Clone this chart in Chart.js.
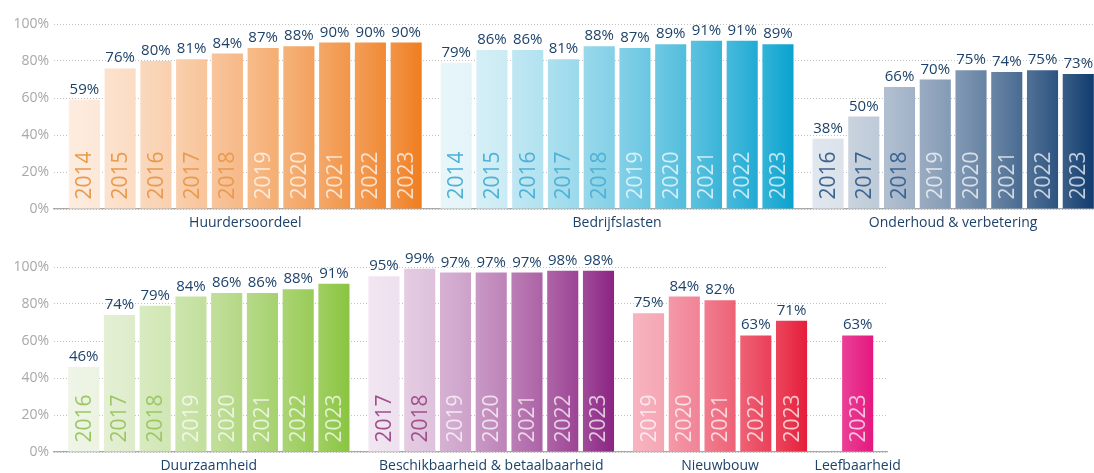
<!DOCTYPE html>
<html>
<head>
<meta charset="utf-8">
<script src="https://cdn.jsdelivr.net/npm/chart.js@4.4.1/dist/chart.umd.min.js"></script>
<style>
    body { margin: 0; background: #fff; }
    .row { position: absolute; left: 0; width: 1094px; }
</style>
</head>
<body>
<div class="row" style="top:0;height:240px"><canvas id="chartTop"></canvas></div>
<div class="row" style="top:243px;height:230px"><canvas id="chartBottom"></canvas></div>
<script>
// data
const yearsHuurders = ['2014', '2015', '2016', '2017', '2018', '2019', '2020', '2021', '2022', '2023'];
const valHuurders = [59, 76, 80, 81, 84, 87, 88, 90, 90, 90];
const yearsBedrijfs = ['2014', '2015', '2016', '2017', '2018', '2019', '2020', '2021', '2022', '2023'];
const valBedrijfs = [79, 86, 86, 81, 88, 87, 89, 91, 91, 89];
const yearsOnderhoud = ['2016', '2017', '2018', '2019', '2020', '2021', '2022', '2023'];
const valOnderhoud = [38, 50, 66, 70, 75, 74, 75, 73];
const yearsDuurz = ['2016', '2017', '2018', '2019', '2020', '2021', '2022', '2023'];
const valDuurz = [46, 74, 79, 84, 86, 86, 88, 91];
const yearsBeschik = ['2017', '2018', '2019', '2020', '2021', '2022', '2023'];
const valBeschik = [95, 99, 97, 97, 97, 98, 98];
const yearsNieuwbouw = ['2019', '2020', '2021', '2022', '2023'];
const valNieuwbouw = [75, 84, 82, 63, 71];
const yearsLeef = ['2023'];
const valLeef = [63];
const yTicks = [0, 20, 40, 60, 80, 100];

const navy = '#1d4269';
Chart.defaults.font.family = "'Open Sans', sans-serif";

function hexToRgb(h) {
    return [parseInt(h.substr(1, 2), 16), parseInt(h.substr(3, 2), 16), parseInt(h.substr(5, 2), 16)];
}
function mix(a, b, t) {
    var c1 = hexToRgb(a), c2 = hexToRgb(b);
    var r = [];
    for (var i = 0; i < 3; i++) r.push(Math.round(c1[i] + (c2[i] - c1[i]) * t));
    return r;
}
function rgb(r) { return 'rgb(' + r.join(',') + ')'; }

function makeChart(canvasId, groups, xMin, xMax, padRight, padBottom) {
    var points = [], colors = [], yearLabels = [], yearColors = [], values = [];
    var pos = 0;
    groups.forEach(function (g) {
        pos += g.gap;
        g.first = points.length;
        for (var i = 0; i < g.values.length; i++) {
            points.push({ x: pos + i, y: g.values[i] });
            values.push(g.values[i]);
            var t = g.values.length > 1 ? i / (g.values.length - 1) : 1;
            colors.push(mix(g.from, g.to, t));
            yearLabels.push(g.years[i]);
            yearColors.push(parseInt(g.years[i]) < 2019 ? g.yearColor : 'rgba(255,255,255,0.72)');
        }
        g.last = points.length - 1;
        pos += g.values.length;
    });

    // light-to-dark sheen across every bar
    function barFill(context) {
        const chart = context.chart;
        const base = colors[context.dataIndex];
        if (!chart.chartArea || !context.raw) return rgb(base);
        const px = chart.scales.x.getPixelForValue(context.raw.x);
        const g = chart.ctx.createLinearGradient(px - 16, 0, px + 16, 0);
        const light = base.map(function (c) { return Math.round(c + (255 - c) * 0.18); });
        g.addColorStop(0, rgb(light));
        g.addColorStop(1, rgb(base));
        return g;
    }

    const textPlugin = {
        id: 'barTexts',
        afterDatasetsDraw(chart) {
            const ctx = chart.ctx;
            const bars = chart.getDatasetMeta(0).data;
            ctx.save();
            bars.forEach(function (bar, i) {
                ctx.font = "15px 'Open Sans'";
                ctx.fillStyle = navy;
                ctx.textAlign = 'center';
                ctx.textBaseline = 'alphabetic';
                ctx.fillText(values[i] + '%', bar.x, bar.y - 6);

                ctx.save();
                ctx.translate(bar.x, bar.base - 9);
                ctx.rotate(-Math.PI / 2);
                ctx.font = "21px 'Open Sans'";
                ctx.fillStyle = yearColors[i];
                ctx.textAlign = 'left';
                ctx.textBaseline = 'middle';
                ctx.fillText(yearLabels[i], 0, 1);
                ctx.restore();
            });
            groups.forEach(function (g) {
                const cx = (bars[g.first].x + bars[g.last].x) / 2;
                ctx.font = "14px 'Open Sans'";
                ctx.fillStyle = navy;
                ctx.textAlign = 'center';
                ctx.textBaseline = 'middle';
                ctx.fillText(g.name, cx, chart.chartArea.bottom + 14);
            });
            ctx.restore();
        }
    };

    return new Chart(document.getElementById(canvasId), {
        type: 'bar',
        data: {
            datasets: [{
                data: points,
                backgroundColor: barFill,
                borderWidth: 0,
                barPercentage: 0.87,
                categoryPercentage: 1
            }]
        },
        options: {
            responsive: true,
            maintainAspectRatio: false,
            animation: false,
            layout: { padding: { top: 24, right: padRight, bottom: padBottom, left: 0 } },
            plugins: { legend: { display: false }, tooltip: { enabled: false } },
            scales: {
                x: {
                    type: 'linear',
                    min: xMin,
                    max: xMax,
                    offset: false,
                    grid: { display: false, drawTicks: false },
                    ticks: { display: false },
                    border: { display: true, color: '#a9a9a9', width: 1.3 }
                },
                y: {
                    min: 0,
                    max: 100,
                    afterFit: function (scale) { scale.width = 54; },
                    afterBuildTicks: function (scale) {
                        scale.ticks = yTicks.map(function (v) { return { value: v }; });
                    },
                    ticks: {
                        padding: 5,
                        color: '#a8a8a8',
                        font: { size: 14 },
                        callback: function (v) { return v + '%'; }
                    },
                    grid: { color: '#c2c2c2', drawTicks: false },
                    border: { display: false, dash: [1, 2] }
                }
            }
        },
        plugins: [textPlugin]
    });
}

makeChart('chartTop', [
    { name: 'Huurdersoordeel', years: yearsHuurders, values: valHuurders, from: '#fce8d8', to: '#ef7d1f', yearColor: '#e99a4c', gap: 0 },
    { name: 'Bedrijfslasten', years: yearsBedrijfs, values: valBedrijfs, from: '#e3f4f9', to: '#08a2cf', yearColor: '#4eb1d6', gap: 0.4 },
    { name: 'Onderhoud & verbetering', years: yearsOnderhoud, values: valOnderhoud, from: '#dbe2ea', to: '#0f3b6e', yearColor: '#3a6592', gap: 0.4 }
], -0.85, 28.24, 0, 31);

makeChart('chartBottom', [
    { name: 'Duurzaamheid', years: yearsDuurz, values: valDuurz, from: '#ecf3e2', to: '#8ac43f', yearColor: '#9cc864', gap: 0 },
    { name: 'Beschikbaarheid & betaalbaarheid', years: yearsBeschik, values: valBeschik, from: '#eee0ee', to: '#8b2382', yearColor: '#a0508f', gap: 0.4 },
    { name: 'Nieuwbouw', years: yearsNieuwbouw, values: valNieuwbouw, from: '#f5a5b3', to: '#e61d39', yearColor: '#f08a9a', gap: 0.4 },
    { name: 'Leefbaarheid', years: yearsLeef, values: valLeef, from: '#e5177f', to: '#e5177f', yearColor: '#e5177f', gap: 0.85 }
], -0.83, 22.47, 207, 21);
</script>
</body>
</html>
